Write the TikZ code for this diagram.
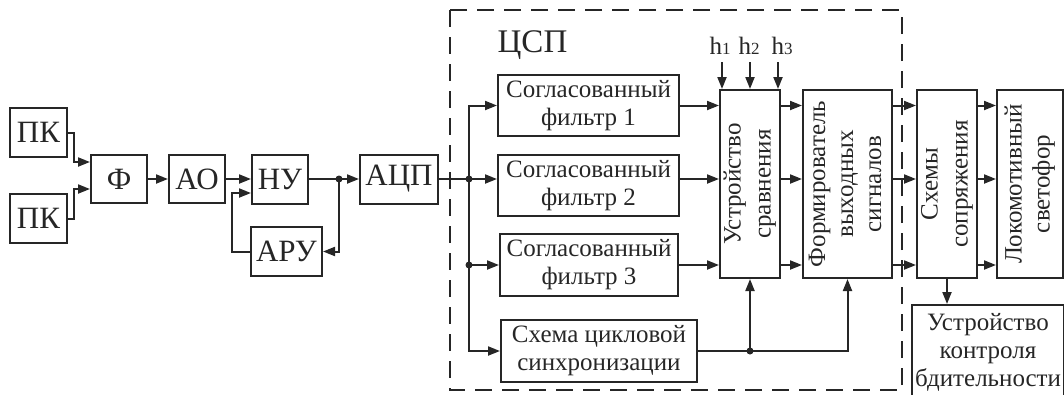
\documentclass[tikz,border=0pt]{standalone}
\usepackage{fontspec}
\setmainfont{Liberation Serif}
\usetikzlibrary{arrows.meta,calc}
\definecolor{ink}{RGB}{38,38,38}
\begin{document}
\begin{tikzpicture}[x=1pt,y=-1pt,
  box/.style={draw=ink,line width=2pt,inner sep=0pt,text=ink,align=center},
  big/.style={font=\fontsize{31}{33}\selectfont},
  txt/.style={font=\fontsize{25}{28}\selectfont},
  arr/.style={draw=ink,line width=2pt,-{Triangle[length=12pt,width=9pt]}},
  ln/.style={draw=ink,line width=2pt},
  dot/.style={circle,fill=ink,inner sep=0pt,minimum size=7pt},
  hlab/.style={text=ink,font=\fontsize{25}{25}\selectfont,inner sep=0pt,anchor=base},
]
\useasboundingbox (0,0) rectangle (1064,394);
\clip (0,0) rectangle (1064,394);

% dashed DSP frame
\draw[ink,line width=2pt,dash pattern=on 17pt off 10pt] (450,10) rectangle (902,390);
\node[text=ink,font=\fontsize{33}{33}\selectfont,anchor=base,inner sep=0pt] (csp) at (532.5,52) {ЦСП};

% left chain
\node[box,big,minimum width=57,minimum height=49] (pk1) at (38.5,132.5) {ПК};
\node[box,big,minimum width=57,minimum height=49] (pk2) at (38.5,218.5) {ПК};
\node[box,big,minimum width=56,minimum height=48] (f) at (119,179) {Ф};
\node[box,big,minimum width=56,minimum height=48] (ao) at (197,179) {АО};
\node[box,big,minimum width=56,minimum height=49] (nu) at (280,179) {НУ};
\node[box,big,minimum width=71,minimum height=49] (aru) at (286.5,251.5) {АРУ};
\node[box,big,minimum width=78,minimum height=49] (adc) at (399,179) {АЦП};

% DSP blocks
\node[box,txt,minimum width=181,minimum height=61] (sf1) at (588.5,105.5) {Согласованный\\фильтр 1};
\node[box,txt,minimum width=181,minimum height=61] (sf2) at (588.5,185.5) {Согласованный\\фильтр 2};
\node[box,txt,minimum width=178,minimum height=62] (sf3) at (589,265) {Согласованный\\фильтр 3};
\node[box,txt,minimum width=196,minimum height=62] (sync) at (599,351) {Схема цикловой\\синхронизации};

\node[box,txt,minimum width=60,minimum height=188] (us) at (750,184)
  {\rotatebox{90}{\begin{tabular}{@{}c@{}}Устройство\\[2pt]сравнения\end{tabular}}};
\node[box,txt,minimum width=89,minimum height=188] (fvs) at (847.5,184)
  {\rotatebox{90}{\begin{tabular}{@{}c@{}}Формирователь\\выходных\\сигналов\end{tabular}}};
\node[box,txt,minimum width=60,minimum height=188] (ss) at (947,184)
  {\rotatebox{90}{\begin{tabular}{@{}c@{}}Схемы\\[2pt]сопряжения\end{tabular}}};
\node[box,txt,minimum width=66,minimum height=188] (ls) at (1030,184)
  {\rotatebox{90}{\begin{tabular}{@{}c@{}}Локомотивный\\светофор\end{tabular}}};
\node[box,txt,minimum width=152,minimum height=94] (ukb) at (988,352)
  {Устройство\\контроля\\бдительности};

% thresholds
\node[hlab] (h1) at (720,54) {h{\fontsize{17}{17}\selectfont 1}};
\node[hlab] (h2) at (749,54) {h{\fontsize{17}{17}\selectfont 2}};
\node[hlab] (h3) at (782,54) {h{\fontsize{17}{17}\selectfont 3}};
\coordinate (t1) at (722,62);
\coordinate (t2) at (750,62);
\coordinate (t3) at (778,62);
\foreach \t in {t1,t2,t3} \draw[arr] (\t) -- (\t |- us.north);

% left connectors
\draw[arr] (pk1.east) -- ++(6,0) |- ([yshift=17pt]f.west);
\draw[arr] (pk2.east) -- ++(6,0) |- ([yshift=-10pt]f.west);
\draw[arr] (f) -- (ao);
\draw[arr] (ao) -- (nu);
\draw[arr] (aru.west) -- ++(-18,0) |- ([yshift=-14pt]nu.west);
\node[dot] (d1) at (339,179) {};
\draw[ln] (nu.east) -- (d1.center);
\draw[arr] (d1.center) -- (adc.west);
\draw[arr] (d1.center) |- (aru.east);

% bus into DSP
\node[dot] (d2) at (469,179) {};
\node[dot] (d3) at (469,265) {};
\draw[ln] (adc.east) -- (d2.center);
\draw[arr] (d2.center) -- (sf2.west |- d2);
\draw[arr] (d2.center) |- (sf1.west);
\draw[arr] (d3.center) -- (sf3.west);
\draw[arr] (d2.center) |- (sync.west);

% filters to comparator
\draw[arr] (sf1.east) -- (sf1.east -| us.west);
\draw[arr] (sf2.east |- d2) -- (us.west |- d2);
\draw[arr] (sf3.east) -- (sf3.east -| us.west);

% right chain
\foreach \a/\b in {us/fvs,fvs/ss,ss/ls}{
  \draw[arr] (\a.east |- sf1.east) -- (\b.west |- sf1.east);
  \draw[arr] (\a.east |- d2) -- (\b.west |- d2);
  \draw[arr] (\a.east |- sf3.east) -- (\b.west |- sf3.east);
}

% sync outputs
\node[dot] (d4) at (us.south |- sync.east) {};
\draw[ln] (sync.east) -- (d4.center);
\draw[arr] (d4.center) -- (us.south);
\draw[arr] (d4.center) -| (fvs.south);

% to vigilance device
\draw[arr] (ss.south) -- (ss.south |- ukb.north);
\end{tikzpicture}
\end{document}
